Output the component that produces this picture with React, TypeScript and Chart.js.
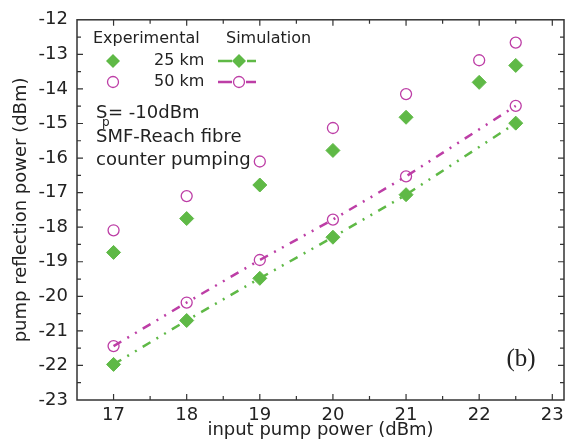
import React, { useEffect, useRef } from 'react';
import { Chart, registerables } from 'chart.js';

Chart.register(...registerables);

// ---- data ----
const xExperimental = [17, 18, 19, 20, 21, 22, 22.5];
const exp25km = [-18.73, -17.75, -16.78, -15.78, -14.82, -13.81, -13.32];
const exp50km = [-18.09, -17.1, -16.1, -15.13, -14.15, -13.17, -12.66];

const xSimulation = [17, 18, 19, 20, 21, 22.5];
const sim25km = [-21.97, -20.7, -19.48, -18.29, -17.06, -14.99];
const sim50km = [-21.44, -20.18, -18.95, -17.78, -16.53, -14.49];

const xTicks = [17, 18, 19, 20, 21, 22, 23];
const yTicks = [-23, -22, -21, -20, -19, -18, -17, -16, -15, -14, -13, -12];

const GREEN = '#5FB946';
const MAGENTA = '#BD3EA6';
const TEXT = '#222222';
const FONT = '"DejaVu Sans", sans-serif';

function pts(xs: number[], ys: number[]) {
  return xs.map((x, i) => ({ x, y: ys[i] }));
}

function drawDiamond(ctx: CanvasRenderingContext2D, x: number, y: number, r: number) {
  ctx.beginPath();
  ctx.moveTo(x, y - r);
  ctx.lineTo(x + r, y);
  ctx.lineTo(x, y + r);
  ctx.lineTo(x - r, y);
  ctx.closePath();
  ctx.fillStyle = GREEN;
  ctx.fill();
}

function drawCircle(ctx: CanvasRenderingContext2D, x: number, y: number, r: number) {
  ctx.beginPath();
  ctx.arc(x, y, r, 0, Math.PI * 2);
  ctx.strokeStyle = MAGENTA;
  ctx.lineWidth = 1.3;
  ctx.stroke();
}

const framePlugin = {
  id: 'frameAndNotes',
  afterDraw(chart: any) {
    const { ctx, chartArea } = chart;
    const { left, right, top, bottom } = chartArea;
    const xs = chart.scales.x;
    const ys = chart.scales.y;
    ctx.save();
    // frame
    ctx.strokeStyle = '#333333';
    ctx.lineWidth = 1.5;
    ctx.strokeRect(left, top, right - left, bottom - top);
    // inward ticks (major + half-unit minor) on all four sides
    ctx.lineWidth = 1.2;
    ctx.beginPath();
    for (let i = 0; i < xTicks.length; i++) {
      for (const v of [xTicks[i], xTicks[i] - 0.5]) {
        const px = xs.getPixelForValue(v);
        if (px < left + 1 || px > right - 1) continue;
        const len = v === xTicks[i] ? 6 : 4;
        ctx.moveTo(px, bottom);
        ctx.lineTo(px, bottom - len);
        ctx.moveTo(px, top);
        ctx.lineTo(px, top + len);
      }
    }
    for (let i = 0; i < yTicks.length; i++) {
      for (const v of [yTicks[i], yTicks[i] - 0.5]) {
        const py = ys.getPixelForValue(v);
        if (py < top + 1 || py > bottom - 1) continue;
        const len = v === yTicks[i] ? 6 : 4;
        ctx.moveTo(left, py);
        ctx.lineTo(left + len, py);
        ctx.moveTo(right, py);
        ctx.lineTo(right - len, py);
      }
    }
    ctx.stroke();

    // legend block
    ctx.fillStyle = TEXT;
    ctx.textBaseline = 'middle';
    ctx.textAlign = 'left';
    ctx.font = `16px ${FONT}`;
    ctx.fillText('Experimental', 93, 39);
    ctx.fillText('Simulation', 226, 39);
    ctx.fillText('25 km', 154, 61);
    ctx.fillText('50 km', 154, 82);

    drawDiamond(ctx, 113, 61, 7);
    drawCircle(ctx, 113, 82, 5.5);

    ctx.lineWidth = 2.5;
    ctx.strokeStyle = GREEN;
    ctx.beginPath();
    ctx.moveTo(218, 61); ctx.lineTo(232, 61);
    ctx.moveTo(247, 61); ctx.lineTo(256, 61);
    ctx.stroke();
    drawDiamond(ctx, 239, 61, 7);

    ctx.lineWidth = 2.5;
    ctx.strokeStyle = MAGENTA;
    ctx.beginPath();
    ctx.moveTo(218, 82); ctx.lineTo(232, 82);
    ctx.moveTo(246, 82); ctx.lineTo(256, 82);
    ctx.stroke();
    drawCircle(ctx, 239, 82, 5.5);

    ctx.fillStyle = TEXT;
    ctx.font = `18px ${FONT}`;
    ctx.fillText('S', 96, 113);
    ctx.fillText('= -10dBm', 108, 113);
    ctx.font = `12px ${FONT}`;
    ctx.fillText('p', 102, 123);
    ctx.font = `18px ${FONT}`;
    ctx.fillText('SMF-Reach fibre', 96, 137);
    ctx.fillText('counter pumping', 96, 160);

    ctx.font = `25px "Liberation Serif", "DejaVu Serif", serif`;
    ctx.textAlign = 'center';
    ctx.fillText('(b)', 521, 359);
    ctx.restore();
  },
};

export default function App() {
  const ref = useRef<HTMLCanvasElement | null>(null);

  useEffect(() => {
    if (!ref.current) return;
    const chart = new Chart(ref.current, {
      type: 'scatter',
      data: {
        datasets: [
          {
            label: 'Simulation 50 km',
            data: pts(xSimulation, sim50km),
            showLine: true,
            borderColor: MAGENTA,
            borderWidth: 2.5,
            borderDash: [9, 7, 2, 7, 2, 7],
            pointStyle: 'circle',
            pointRadius: 5.5,
            pointBorderWidth: 1.3,
            pointBorderColor: MAGENTA,
            pointBackgroundColor: 'rgba(0,0,0,0)',
          },
          {
            label: 'Simulation 25 km',
            data: pts(xSimulation, sim25km),
            showLine: true,
            borderColor: GREEN,
            borderWidth: 2.5,
            borderDash: [9, 7, 2, 7, 2, 7],
            pointStyle: 'rectRot',
            pointRadius: 7,
            pointBorderWidth: 1,
            pointBorderColor: GREEN,
            pointBackgroundColor: GREEN,
          },
          {
            label: 'Experimental 25 km',
            data: pts(xExperimental, exp25km),
            showLine: false,
            pointStyle: 'rectRot',
            pointRadius: 7,
            pointBorderWidth: 1,
            pointBorderColor: GREEN,
            pointBackgroundColor: GREEN,
          },
          {
            label: 'Experimental 50 km',
            data: pts(xExperimental, exp50km),
            showLine: false,
            pointStyle: 'circle',
            pointRadius: 5.5,
            pointBorderWidth: 1.3,
            pointBorderColor: MAGENTA,
            pointBackgroundColor: 'rgba(0,0,0,0)',
          },
        ],
      },
      options: {
        animation: false,
        responsive: false,
        devicePixelRatio: 1,
        layout: { padding: { left: 0, right: 7, top: 16, bottom: 0 } },
        plugins: {
          legend: { display: false },
          tooltip: { enabled: false },
        },
        scales: {
          x: {
            type: 'linear',
            min: 16.5,
            max: 23.16,
            afterBuildTicks: (s: any) => {
              s.ticks = xTicks.map((v) => ({ value: v }));
            },
            afterFit: (s: any) => {
              s.height = 44;
            },
            grid: { display: false, drawTicks: false },
            border: { display: false },
            ticks: {
              autoSkip: false,
              maxRotation: 0,
              padding: 5,
              color: TEXT,
              font: { family: FONT, size: 18 },
            },
            title: {
              display: true,
              text: 'input pump power (dBm)',
              color: TEXT,
              font: { family: FONT, size: 18 },
              padding: { top: 0, bottom: 3 },
            },
          },
          y: {
            type: 'linear',
            min: -23,
            max: -12,
            afterBuildTicks: (s: any) => {
              s.ticks = yTicks.map((v) => ({ value: v }));
            },
            afterFit: (s: any) => {
              s.width = 77;
            },
            grid: { display: false, drawTicks: false },
            border: { display: false },
            ticks: {
              autoSkip: false,
              padding: 9,
              color: TEXT,
              font: { family: FONT, size: 18 },
            },
            title: {
              display: true,
              text: 'pump reflection power (dBm)',
              color: TEXT,
              font: { family: FONT, size: 18 },
              padding: { top: 11, bottom: 0 },
            },
          },
        },
      },
      plugins: [framePlugin],
    } as any);
    return () => chart.destroy();
  }, []);

  return (
    <div style={{ position: 'absolute', left: 0, top: 0, width: 572, height: 444, background: '#fff' }}>
      <canvas ref={ref} width={572} height={444} style={{ display: 'block', width: 572, height: 444 }} />
    </div>
  );
}
